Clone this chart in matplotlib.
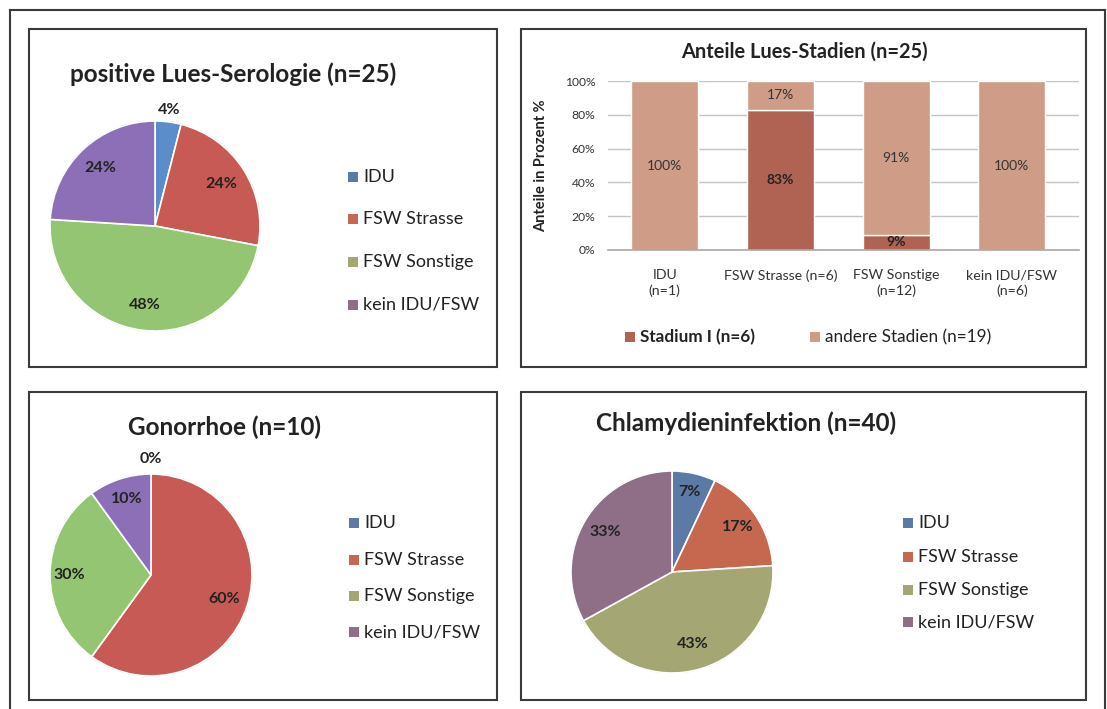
import numpy as np
import matplotlib
matplotlib.use('Agg')
import matplotlib.pyplot as plt
from matplotlib.patches import Rectangle

plt.rcParams['font.family'] = ['Lato', 'DejaVu Sans']

W, H = 1107, 709

# data
groups = ['IDU', 'FSW Strasse', 'FSW Sonstige', 'kein IDU/FSW']
lues_pct = [4, 24, 48, 24]
gono_pct = [0, 60, 30, 10]
chlam_pct = [7, 17, 43, 33]

bar_cats = ['IDU\n(n=1)', 'FSW Strasse (n=6)', 'FSW Sonstige\n(n=12)', 'kein IDU/FSW\n(n=6)']
stadium1 = [0, 83, 9, 0]
andere = [100, 17, 91, 100]
bar_series = ['Stadium I (n=6)', 'andere Stadien (n=19)']
yticks = [0, 20, 40, 60, 80, 100]

colors_bright = ['#5b8dcb', '#c85a55', '#93c572', '#8c6fb6']
colors_muted = ['#5b7ba6', '#c5684f', '#a4a773', '#8f6e87']
bar_colors = ['#b06352', '#cf9c88']
txt = '#222222'

fig = plt.figure(figsize=(W / 100, H / 100), dpi=100)


def fx(x):
    return x / W


def fy(y):
    return 1 - y / H


def box(x0, y0, x1, y1, lw=1.5, col='#3a3a3a'):
    fig.add_artist(Rectangle((fx(x0), fy(y1)), (x1 - x0) / W, (y1 - y0) / H,
                             transform=fig.transFigure, fill=False, lw=lw, ec=col))


def legend(xs, ys, labels, cols, size=13, sq=10, weights=None):
    if weights is None:
        weights = ['normal'] * len(labels)
    for x, y, lab, c, w in zip(xs, ys, labels, cols, weights):
        fig.add_artist(Rectangle((fx(x), fy(y + sq / 2)), sq / W, sq / H,
                                 transform=fig.transFigure, fc=c, ec='none'))
        fig.text(fx(x + sq + 5), fy(y), lab, ha='left', va='center',
                 fontsize=size, weight=w, color=txt)


def pie(cx, cy, r, vals, cols, label_r, title, tx, ty):
    ax = fig.add_axes([fx(cx - r), fy(cy + r), 2 * r / W, 2 * r / H])
    wedges, _ = ax.pie(vals, colors=cols, startangle=90, counterclock=False,
                       wedgeprops=dict(edgecolor='white', linewidth=1.2))
    ax.add_patch(plt.Circle((0, 0), 1.0, fill=False, ec='#d0d0d0', lw=1, zorder=0))
    ax.set_xlim(-1, 1)
    ax.set_ylim(-1, 1)
    for w, v, lr in zip(wedges, vals, label_r):
        ang = np.deg2rad((w.theta1 + w.theta2) / 2)
        ax.text(lr * np.cos(ang), lr * np.sin(ang), f'{v}%', ha='center', va='center',
                weight='bold', fontsize=11.5, color=txt)
    fig.text(fx(tx), fy(ty), title, ha='center', va='center', weight='bold',
             fontsize=17.5, color=txt)
    return ax


# borders
fig.add_artist(plt.Line2D([fx(10), fx(10)], [0, fy(10)], transform=fig.transFigure, lw=1.5, color='#3a3a3a'))
fig.add_artist(plt.Line2D([fx(10), fx(1105)], [fy(10), fy(10)], transform=fig.transFigure, lw=1.5, color='#3a3a3a'))
fig.add_artist(plt.Line2D([fx(1105), fx(1105)], [fy(10), 0], transform=fig.transFigure, lw=1.5, color='#3a3a3a'))
box(29, 29, 497, 367)
box(521, 29, 1086, 367)
box(29, 392, 497, 700)
box(521, 392, 1086, 700)

# panel 1
pie(155, 226, 105, lues_pct, colors_bright, [1.11, 0.75, 0.76, 0.76],
    'positive Lues-Serologie (n=25)', 233, 74)
legend([348] * 4, [177, 219, 262, 305], groups, colors_muted)

# panel 3
pie(151, 575, 101, gono_pct, colors_bright, [1.15, 0.76, 0.81, 0.79],
    'Gonorrhoe (n=10)', 225, 427)
legend([349] * 4, [523, 560, 596, 632], groups, colors_muted)

# panel 4
pie(672, 572, 101, chlam_pct, colors_muted, [0.81, 0.79, 0.74, 0.77],
    'Chlamydieninfektion (n=40)', 746, 423)
legend([903] * 4, [523, 557, 590, 622], groups, colors_muted)

# panel 2: stacked bars
ax = fig.add_axes([fx(608), fy(250), (1079 - 608) / W, 169 / H])
x = np.arange(len(bar_cats))
b1 = ax.bar(x, stadium1, width=0.58, color=bar_colors[0], edgecolor='white', linewidth=1, zorder=2)
b2 = ax.bar(x, andere, bottom=stadium1, width=0.58, color=bar_colors[1], edgecolor='white',
            linewidth=1, zorder=2)
for xi, s, a in zip(x, stadium1, andere):
    if s > 0:
        ax.text(xi, s / 2, f'{s}%', ha='center', va='center', weight='bold', fontsize=10, color=txt)
    if a > 0:
        ax.text(xi, s + a / 2, f'{a}%', ha='center', va='center', fontsize=10, color='#333333')
ax.set_xlim(-0.49, 3.58)
ax.set_ylim(0, 100)
ax.set_yticks(yticks, [f'{t}%' for t in yticks], fontsize=8.7, color='#333333')
ax.set_xticks(x, bar_cats, fontsize=10.2, color='#333333', linespacing=1.3)
ax.tick_params(axis='y', length=0, pad=9)
ax.tick_params(axis='x', length=0, pad=14)
ax.yaxis.grid(True, color='#c4c4c4', lw=1)
ax.set_axisbelow(True)
for s in ['top', 'right', 'left']:
    ax.spines[s].set_visible(False)
ax.spines['bottom'].set_color('#a8a8a8')
ax.spines['bottom'].set_linewidth(1.2)
ax.set_ylabel('Anteile in Prozent %', weight='bold', fontsize=10.5, color=txt)
ax.yaxis.set_label_coords(-0.127, 0.5)
fig.text(fx(804), fy(52), 'Anteile Lues-Stadien (n=25)', ha='center', va='center',
         weight='bold', fontsize=14.4, color=txt)
legend([625, 810], [337, 337], bar_series, bar_colors, size=12.3, sq=10,
       weights=['bold', 'normal'])

fig.savefig('out.png', dpi=100)
